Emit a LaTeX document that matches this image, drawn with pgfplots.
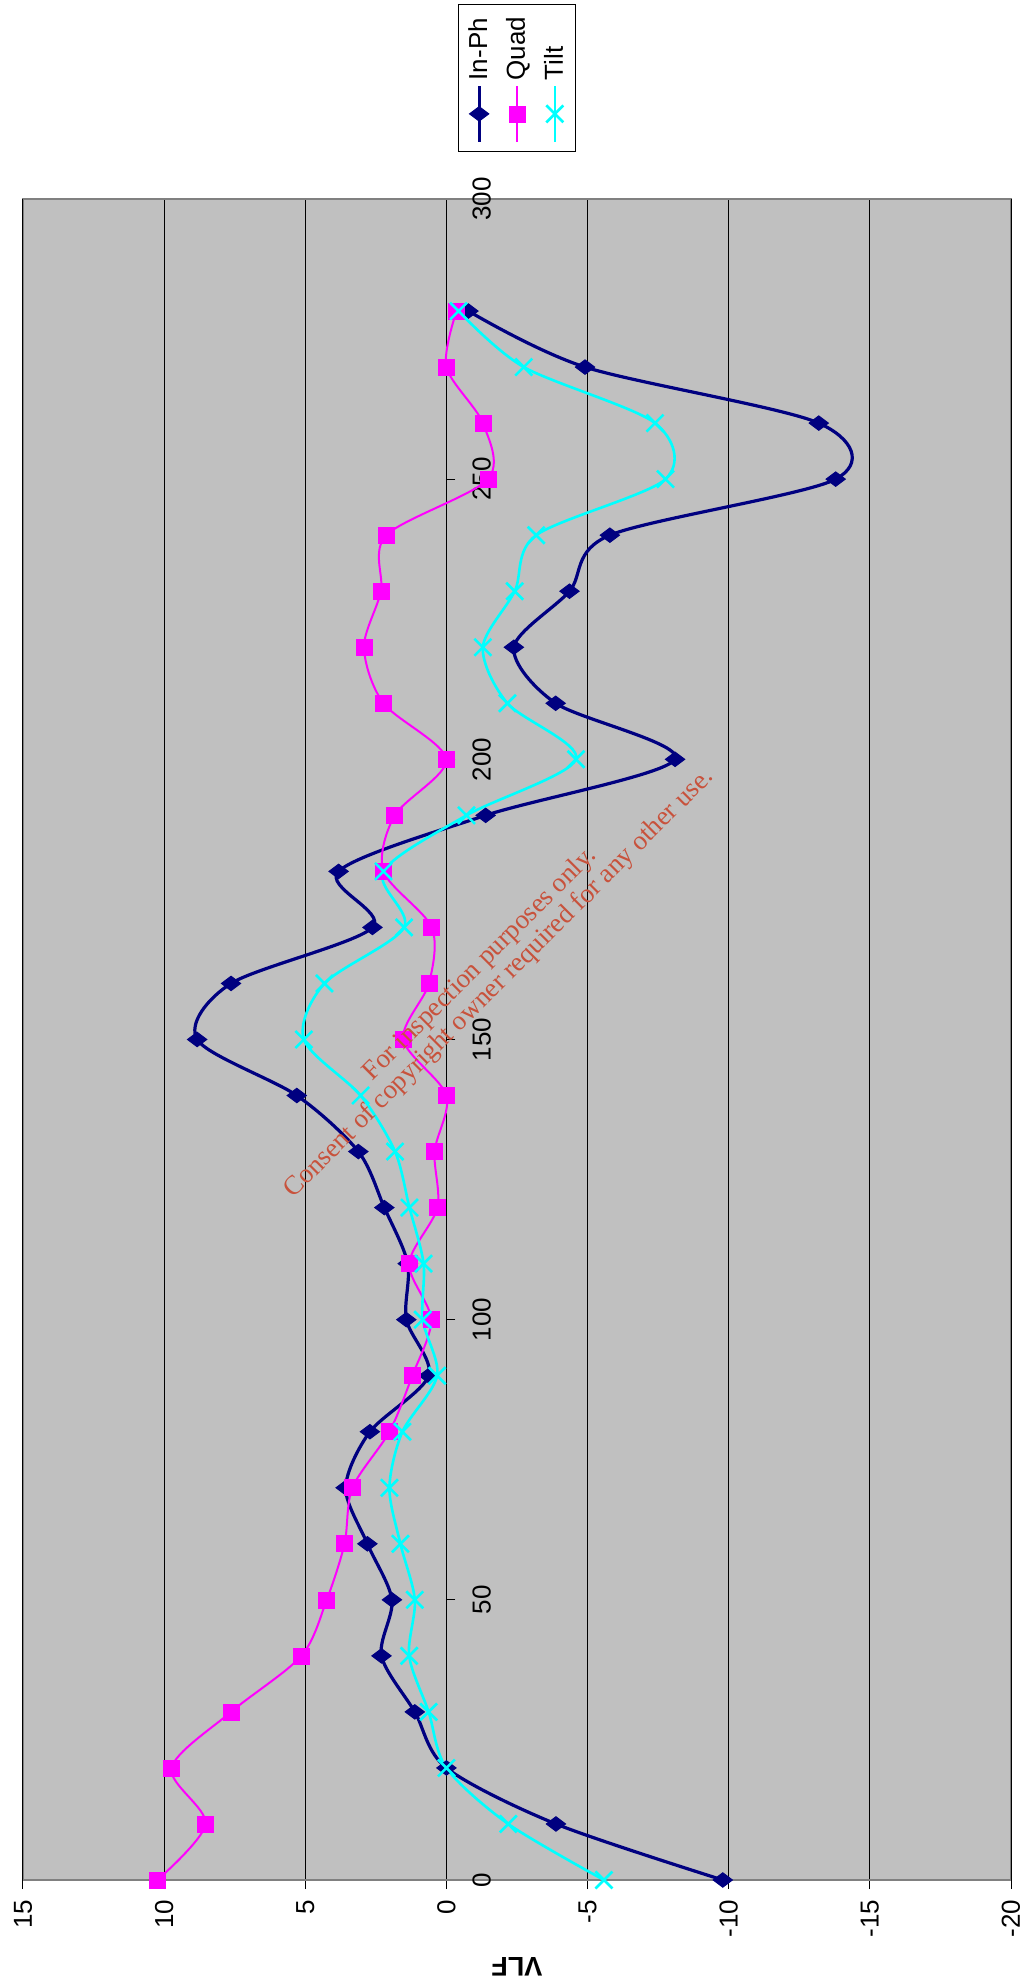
\documentclass[border=0pt]{standalone}
\usepackage{pgfplots}
\pgfplotsset{compat=1.18}
\usepackage{pgfplotstable}
\usepackage{fontspec}
\setmainfont{Liberation Sans}
\newfontfamily\wmfont{Liberation Serif}
\definecolor{inph}{HTML}{000080}
\definecolor{quad}{HTML}{FF00FF}
\definecolor{tilt}{HTML}{00FFFF}
\definecolor{bggray}{HTML}{C0C0C0}
\definecolor{framegray}{HTML}{808080}
\definecolor{wm}{RGB}{200,82,60}

\pgfplotstableread{
x inph quad tilt
0 -9.79 10.24 -5.58
10 -3.88 8.53 -2.19
20 0.00 9.74 0.00
30 1.12 7.63 0.63
40 2.30 5.14 1.32
50 1.93 4.24 1.12
60 2.80 3.61 1.63
70 3.57 3.33 2.02
80 2.71 2.02 1.56
90 0.63 1.21 0.33
100 1.42 0.54 0.84
110 1.37 1.32 0.81
120 2.20 0.32 1.31
130 3.12 0.42 1.82
140 5.30 0.00 3.04
150 8.83 1.53 5.05
160 7.63 0.62 4.32
170 2.62 0.52 1.50
180 3.82 2.23 2.23
190 -1.39 1.83 -0.71
200 -8.10 0.00 -4.59
210 -3.87 2.23 -2.16
220 -2.39 2.92 -1.29
230 -4.36 2.32 -2.42
240 -5.79 2.13 -3.18
250 -13.79 -1.47 -7.76
260 -13.19 -1.29 -7.39
270 -4.91 0.00 -2.74
280 -0.78 -0.36 -0.43
}\datatable

\begin{document}
\begin{tikzpicture}
\begin{scope}[rotate=90, transform shape]
\begin{axis}[
  at={(0pt,0pt)}, anchor=south west,
  scale only axis, width=840.5pt, height=494pt,
  xmin=0, xmax=300, ymin=-20, ymax=15,
  xtick={0,50,...,300}, ytick={-20,-15,...,15},
  axis x line=middle, axis y line=box,
  hide obscured x ticks=false,
  x axis line style={-, black, line width=0.6pt},
  y axis line style={framegray, line width=1pt},
  axis background/.style={fill=bggray, draw=framegray, line width=1pt},
  ytick pos=left,
  tick align=outside,
  major tick length=4.5pt,
  tick style={black, line width=0.5pt},
  ymajorgrids, grid style={black, line width=0.5pt},
  /pgf/number format/assume math mode=true,
  ticklabel style={font=\fontsize{13}{15}\selectfont},
  xticklabel style={yshift=-5pt},
  yticklabel style={xshift=-2pt},
  ylabel={VLF},
  ylabel style={font=\fontsize{13.5}{16}\selectfont\bfseries, at={(axis description cs:-0.0518,0.5)}, anchor=center},
  legend style={at={(axis description cs:1,0.5)}, anchor=west, xshift=23.5pt,
    draw=black, fill=white, line width=0.5pt,
    font=\fontsize{13}{15}\selectfont,
    inner xsep=4pt, inner ysep=3pt, row sep=4pt,
    cells={anchor=west}},
  legend image code/.code={\draw[mark repeat=2, mark phase=2, #1] plot coordinates {(0pt,0pt) (14pt,0pt) (28pt,0pt)};},
]
\addplot[inph, line width=1.6pt, smooth, mark=diamond*, mark size=4.8pt, mark options={solid, fill=inph, line width=0.5pt}] table[x=x, y=inph] {\datatable};
\addlegendentry{In-Ph}
\addplot[quad, line width=1pt, smooth, mark=square*, mark size=4pt, mark options={solid, fill=quad, line width=0.3pt}] table[x=x, y=quad] {\datatable};
\addlegendentry{Quad}
\addplot[tilt, line width=1.3pt, smooth, mark=x, mark size=6pt, mark options={solid, line width=1.3pt}] table[x=x, y=tilt] {\datatable};
\addlegendentry{Tilt}
\end{axis}
\end{scope}
\node[rotate=45, text=wm, font=\wmfont\fontsize{13.5}{13.5}\selectfont, align=center] at (-260.5pt,453pt) {For inspection purposes only.\\Consent of copyright owner required for any other use.};
\pgfresetboundingbox
\path (-505.5pt,-52pt) rectangle (6pt,940pt);
\end{tikzpicture}
\end{document}
